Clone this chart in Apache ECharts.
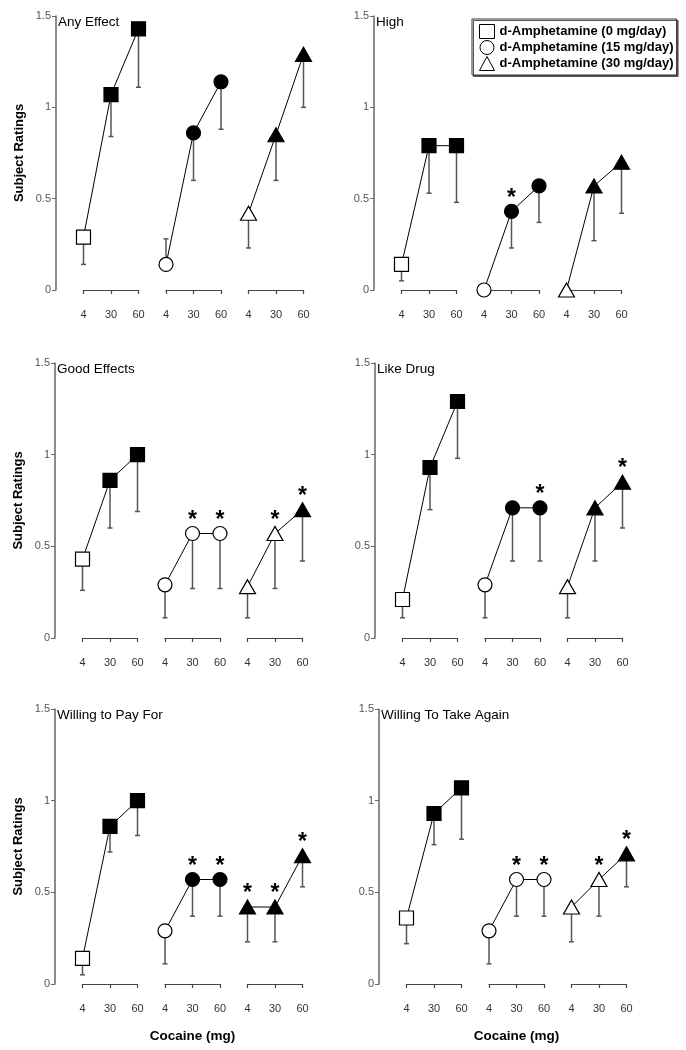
<!DOCTYPE html>
<html><head><meta charset="utf-8">
<script src="https://cdn.jsdelivr.net/npm/echarts@6/dist/echarts.min.js"></script>
<style>html,body{margin:0;padding:0;background:#fff}#c{width:686px;height:1050px}</style>
</head><body><div id="c"></div>
<script>
// ---------- data ----------
const doses = ['4', '30', '60'];
const groupNames = ['d-Amphetamine (0 mg/day)', 'd-Amphetamine (15 mg/day)', 'd-Amphetamine (30 mg/day)'];
const panelTitles = ['Any Effect', 'High', 'Good Effects', 'Like Drug', 'Willing to Pay For', 'Willing To Take Again'];
const yAxisTitle = 'Subject Ratings';
const xAxisTitle = 'Cocaine (mg)';

// rows = d-amphetamine group (0, 15, 30 mg/day); columns = cocaine dose (4, 30, 60 mg)
const anyEffectMean   = [[0.29, 1.07, 1.43], [0.14, 0.86, 1.14], [0.42, 0.85, 1.29]];
const anyEffectErr    = [[0.14, 0.84, 1.11], [0.28, 0.60, 0.88], [0.23, 0.60, 1.00]];
const anyEffectFilled = [[0, 1, 1], [0, 1, 1], [0, 1, 1]];
const anyEffectStar   = [[0, 0, 0], [0, 0, 0], [0, 0, 0]];

const highMean   = [[0.14, 0.79, 0.79], [0.00, 0.43, 0.57], [0.00, 0.57, 0.70]];
const highErr    = [[0.05, 0.53, 0.48], [null, 0.23, 0.37], [null, 0.27, 0.42]];
const highFilled = [[0, 1, 1], [0, 1, 1], [0, 1, 1]];
const highStar   = [[0, 0, 0], [0, 1, 0], [0, 0, 0]];

const goodMean   = [[0.43, 0.86, 1.00], [0.29, 0.57, 0.57], [0.28, 0.57, 0.70]];
const goodErr    = [[0.26, 0.60, 0.69], [0.11, 0.27, 0.27], [0.11, 0.27, 0.42]];
const goodFilled = [[0, 1, 1], [0, 0, 0], [0, 0, 1]];
const goodStar   = [[0, 0, 0], [0, 1, 1], [0, 1, 1]];

const likeMean   = [[0.21, 0.93, 1.29], [0.29, 0.71, 0.71], [0.28, 0.71, 0.85]];
const likeErr    = [[0.11, 0.70, 0.98], [0.11, 0.42, 0.42], [0.11, 0.42, 0.60]];
const likeFilled = [[0, 1, 1], [0, 1, 1], [0, 1, 1]];
const likeStar   = [[0, 0, 0], [0, 0, 1], [0, 0, 1]];

const payMean   = [[0.14, 0.86, 1.00], [0.29, 0.57, 0.57], [0.42, 0.42, 0.70]];
const payErr    = [[0.05, 0.72, 0.81], [0.11, 0.37, 0.37], [0.23, 0.23, 0.53]];
const payFilled = [[0, 1, 1], [0, 1, 1], [1, 1, 1]];
const payStar   = [[0, 0, 0], [0, 1, 1], [1, 1, 1]];

const takeMean   = [[0.36, 0.93, 1.07], [0.29, 0.57, 0.57], [0.42, 0.57, 0.71]];
const takeErr    = [[0.22, 0.76, 0.79], [0.11, 0.37, 0.37], [0.23, 0.37, 0.53]];
const takeFilled = [[0, 1, 1], [0, 0, 0], [0, 0, 1]];
const takeStar   = [[0, 0, 0], [0, 1, 1], [0, 1, 1]];

// ---------- layout / style ----------
const panels = [
  {mean: anyEffectMean, err: anyEffectErr, filled: anyEffectFilled, star: anyEffectStar},
  {mean: highMean, err: highErr, filled: highFilled, star: highStar},
  {mean: goodMean, err: goodErr, filled: goodFilled, star: goodStar},
  {mean: likeMean, err: likeErr, filled: likeFilled, star: likeStar},
  {mean: payMean, err: payErr, filled: payFilled, star: payStar},
  {mean: takeMean, err: takeErr, filled: takeFilled, star: takeStar}
];
const L = [56, 374, 55, 375, 55, 379];
const T = [16, 16, 363, 363, 709, 709];
const H = [274, 274, 275, 275, 275, 275];
const W = 275, STEP = W / 10;
const symbols = ['rect', 'circle', 'triangle'];
const symSizes = [14, 14, [16, 14]];
const FONT = 'Liberation Sans, Arial, sans-serif';

function renderErr(params, api) {
  const x = api.value(0), y = api.value(1), e = api.value(2);
  const p1 = api.coord([x, y]), p2 = api.coord([x, e]);
  const style = {stroke: '#555', lineWidth: 1.5};
  return {type: 'group', children: [
    {type: 'line', shape: {x1: p1[0], y1: p1[1], x2: p2[0], y2: p2[1]}, style: style},
    {type: 'line', shape: {x1: p2[0] - 2.5, y1: p2[1], x2: p2[0] + 2.5, y2: p2[1]}, style: style}
  ]};
}

const grid = [], xAxis = [], yAxis = [], series = [], title = [];
panels.forEach((p, k) => {
  const gi = grid.length;
  grid.push({left: L[k], top: T[k], width: W, height: H[k]});
  xAxis.push({gridIndex: gi, type: 'value', min: 0, max: 10, show: false});
  yAxis.push({
    gridIndex: gi, type: 'value', min: 0, max: 1.5, interval: 0.5,
    axisLine: {show: true, lineStyle: {color: '#666', width: 1.5}},
    axisTick: {show: true, length: 4, lineStyle: {color: '#666', width: 1}},
    splitLine: {show: false},
    axisLabel: {color: '#555', fontSize: 11, margin: 5, fontFamily: FONT},
    name: k % 2 === 0 ? yAxisTitle : '', nameLocation: 'middle', nameGap: 30,
    nameTextStyle: {fontSize: 13, fontWeight: 'bold', color: '#000', fontFamily: FONT}
  });
  title.push({text: panelTitles[k], left: L[k] + 2, top: T[k] - 1, padding: 0,
    textStyle: {fontSize: 13.5, fontWeight: 'normal', color: '#000', fontFamily: FONT}});

  const errData = [];
  for (let g = 0; g < 3; g++) {
    for (let j = 0; j < 3; j++) {
      if (p.err[g][j] !== null) errData.push([3 * g + j + 1, p.mean[g][j], p.err[g][j]]);
    }
  }
  series.push({type: 'custom', xAxisIndex: gi, yAxisIndex: gi, data: errData,
    renderItem: renderErr, encode: {x: 0, y: 1}, z: 1, silent: true, clip: false});

  for (let g = 0; g < 3; g++) {
    const data = doses.map((d, j) => {
      const item = {
        value: [3 * g + j + 1, p.mean[g][j]],
        itemStyle: {color: p.filled[g][j] ? '#000' : '#fff', borderColor: '#000', borderWidth: 1.2}
      };
      if (p.star[g][j]) {
        item.label = {show: true, formatter: '*', position: 'top', distance: 0, offset: [0, 6],
          fontSize: 23, fontWeight: 'bold', color: '#000', fontFamily: FONT};
      }
      return item;
    });
    series.push({
      type: 'line', name: groupNames[g], xAxisIndex: gi, yAxisIndex: gi,
      symbol: symbols[g], symbolSize: symSizes[g], showAllSymbol: true,
      lineStyle: {color: '#000', width: 1}, itemStyle: {color: '#000'},
      data: data, z: 3, clip: false, silent: true
    });
  }

  for (let g = 0; g < 3; g++) {
    const bi = grid.length;
    grid.push({left: L[k] + STEP * (3 * g + 1), top: T[k], width: 2 * STEP, height: H[k]});
    const named = (k >= 4 && g === 1);
    xAxis.push({
      gridIndex: bi, type: 'category', data: doses, boundaryGap: false, position: 'bottom', offset: 12,
      axisLine: {show: true, lineStyle: {color: '#444', width: 1.2}},
      axisTick: {show: true, length: 4, inside: false, lineStyle: {color: '#444', width: 1.2}},
      axisLabel: {color: '#333', fontSize: 11, margin: 7, interval: 0, fontFamily: FONT},
      splitLine: {show: false},
      name: named ? xAxisTitle : '', nameLocation: 'middle', nameGap: 33,
      nameTextStyle: {fontSize: 13.5, fontWeight: 'bold', color: '#000', fontFamily: FONT}
    });
    yAxis.push({gridIndex: bi, type: 'value', min: 0, max: 1, show: false});
  }
});

const option = {
  animation: false,
  backgroundColor: '#fff',
  textStyle: {fontFamily: FONT},
  title: title,
  legend: {
    left: 472, top: 19, orient: 'vertical', selectedMode: false,
    backgroundColor: '#fff', borderColor: '#333', borderWidth: 1,
    shadowColor: '#555', shadowOffsetX: 1.5, shadowOffsetY: 1.5, shadowBlur: 0,
    padding: [5, 3, 4, 7], itemWidth: 15, itemHeight: 14, itemGap: 1, itemTextGap: 5,
    textStyle: {fontSize: 13, fontWeight: 'bold', color: '#000', fontFamily: FONT, lineHeight: 14},
    data: groupNames.map((n, i) => ({
      name: n, icon: symbols[i],
      itemStyle: {color: '#fff', borderColor: '#000', borderWidth: 1}
    }))
  },
  grid: grid, xAxis: xAxis, yAxis: yAxis, series: series
};
const chart = echarts.init(document.getElementById('c'), null, {renderer: 'canvas'});
chart.setOption(option);
</script></body></html>
